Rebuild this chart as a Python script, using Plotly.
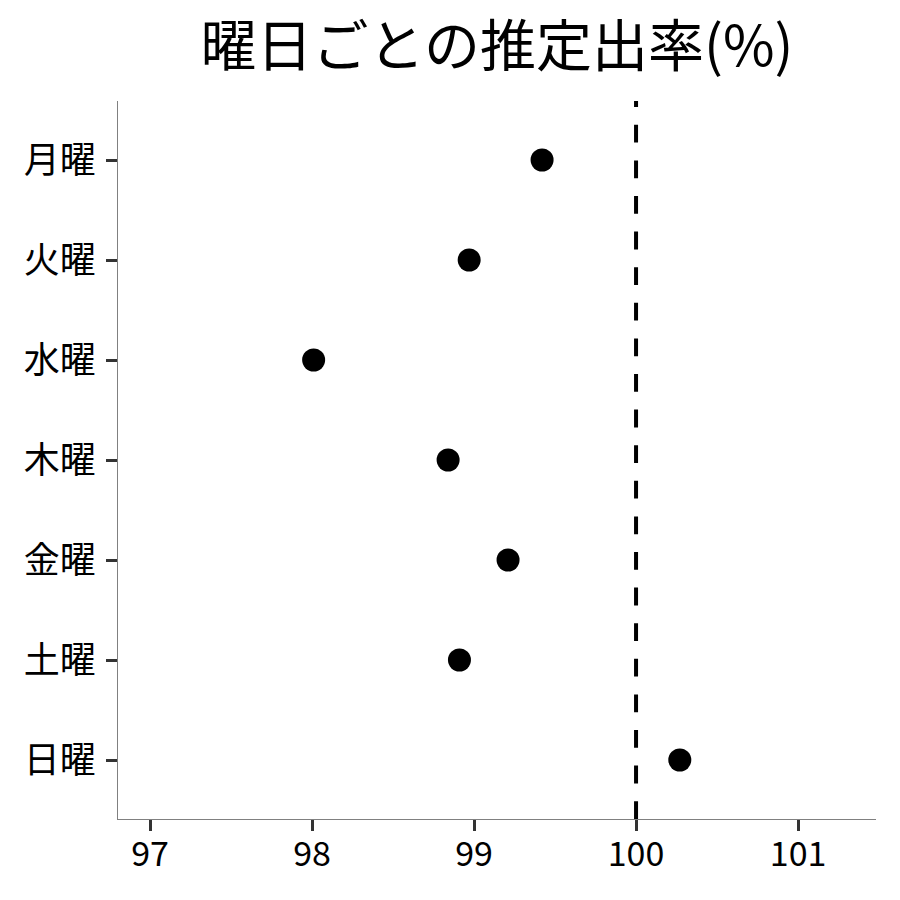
import plotly.graph_objects as go

days = ["月曜", "火曜", "水曜", "木曜", "金曜", "土曜", "日曜"]
rates = [99.42, 98.97, 98.01, 98.84, 99.21, 98.91, 100.27]
ref_value = 100
x_ticks = [97, 98, 99, 100, 101]
title_text = "曜日ごとの推定出率(%)"

FONT = "Noto Sans CJK JP"

fig = go.Figure()
fig.add_trace(go.Scatter(
    x=rates, y=days, mode="markers",
    marker=dict(color="black", size=23, line=dict(width=0)),
    showlegend=False, cliponaxis=False,
))
fig.add_shape(type="line", xref="x", yref="paper", x0=ref_value, x1=ref_value,
              y0=0, y1=1, line=dict(color="black", width=4, dash="17.8px,17.8px"))

fig.update_layout(
    width=900, height=900,
    margin=dict(l=110, r=32, t=93, b=89),
    paper_bgcolor="white", plot_bgcolor="white",
    font=dict(family=FONT, color="black"),
    title=dict(text=title_text, x=0.5433, xanchor="center", y=0.957, yanchor="middle",
               font=dict(size=56, family=FONT, color="black")),
)
fig.update_xaxes(
    range=[96.8025, 101.481], tickvals=x_ticks, ticktext=[str(v) for v in x_ticks],
    showgrid=False, zeroline=False, showline=True, linecolor="#808080", linewidth=1.2,
    ticks="outside", ticklen=11, tickwidth=3, tickcolor="#333333",
    tickfont=dict(size=34, family=FONT, color="black"), ticklabelstandoff=-6,
)
fig.update_yaxes(
    categoryorder="array", categoryarray=days, range=[6.59, -0.59],
    showgrid=False, zeroline=False, showline=True, linecolor="#808080", linewidth=1.2,
    ticks="outside", ticklen=11, tickwidth=3, tickcolor="#333333",
    tickfont=dict(size=36, family=FONT, color="black"), ticklabelstandoff=3,
)

fig.write_html("out.html")
